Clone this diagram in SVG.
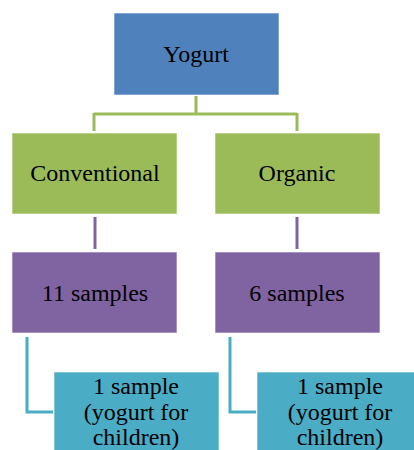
<svg xmlns="http://www.w3.org/2000/svg" width="414" height="450" viewBox="0 0 414 450">
<style>
.box{stroke:#ffffff;stroke-opacity:0.6;stroke-width:1}
.t{font-family:"Liberation Serif","Times New Roman",serif;font-size:24px;fill:#000;text-anchor:middle}
.c{fill:none;stroke-width:3}
</style>
<rect width="414" height="450" fill="#ffffff"/>
<g id="connectors">
<path class="c" stroke="#9BBB59" d="M196 96V114M94 114H297M94 113V131M297 113V131"/>
<path class="c" stroke="#8064A2" d="M95 217V249M297 217V249"/>
<path class="c" stroke="#4BACC6" d="M27 337V412H53M230 337V412H256"/>
</g>
<g id="yogurt"><rect class="box" x="114" y="13" width="165" height="82" fill="#4F81BD"/><text class="t" x="196" y="62">Yogurt</text></g>
<g id="conventional"><rect class="box" x="12" y="133" width="165" height="81" fill="#9BBB59"/><text class="t" x="95" y="181">Conventional</text></g>
<g id="organic"><rect class="box" x="215" y="133" width="165" height="81" fill="#9BBB59"/><text class="t" x="297" y="181">Organic</text></g>
<g id="samples11"><rect class="box" x="12" y="252" width="165" height="81" fill="#8064A2"/><text class="t" x="95" y="301">11 samples</text></g>
<g id="samples6"><rect class="box" x="215" y="252" width="165" height="81" fill="#8064A2"/><text class="t" x="297" y="301">6 samples</text></g>
<g id="child1"><rect class="box" x="54" y="372" width="165" height="90" fill="#4BACC6"/><text class="t" x="136" y="394">1 sample</text><text class="t" x="136" y="420">(yogurt for</text><text class="t" x="136" y="445">children)</text></g>
<g id="child2"><rect class="box" x="257" y="372" width="167" height="90" fill="#4BACC6"/><text class="t" x="340" y="394">1 sample</text><text class="t" x="340" y="420">(yogurt for</text><text class="t" x="340" y="445">children)</text></g>
</svg>
